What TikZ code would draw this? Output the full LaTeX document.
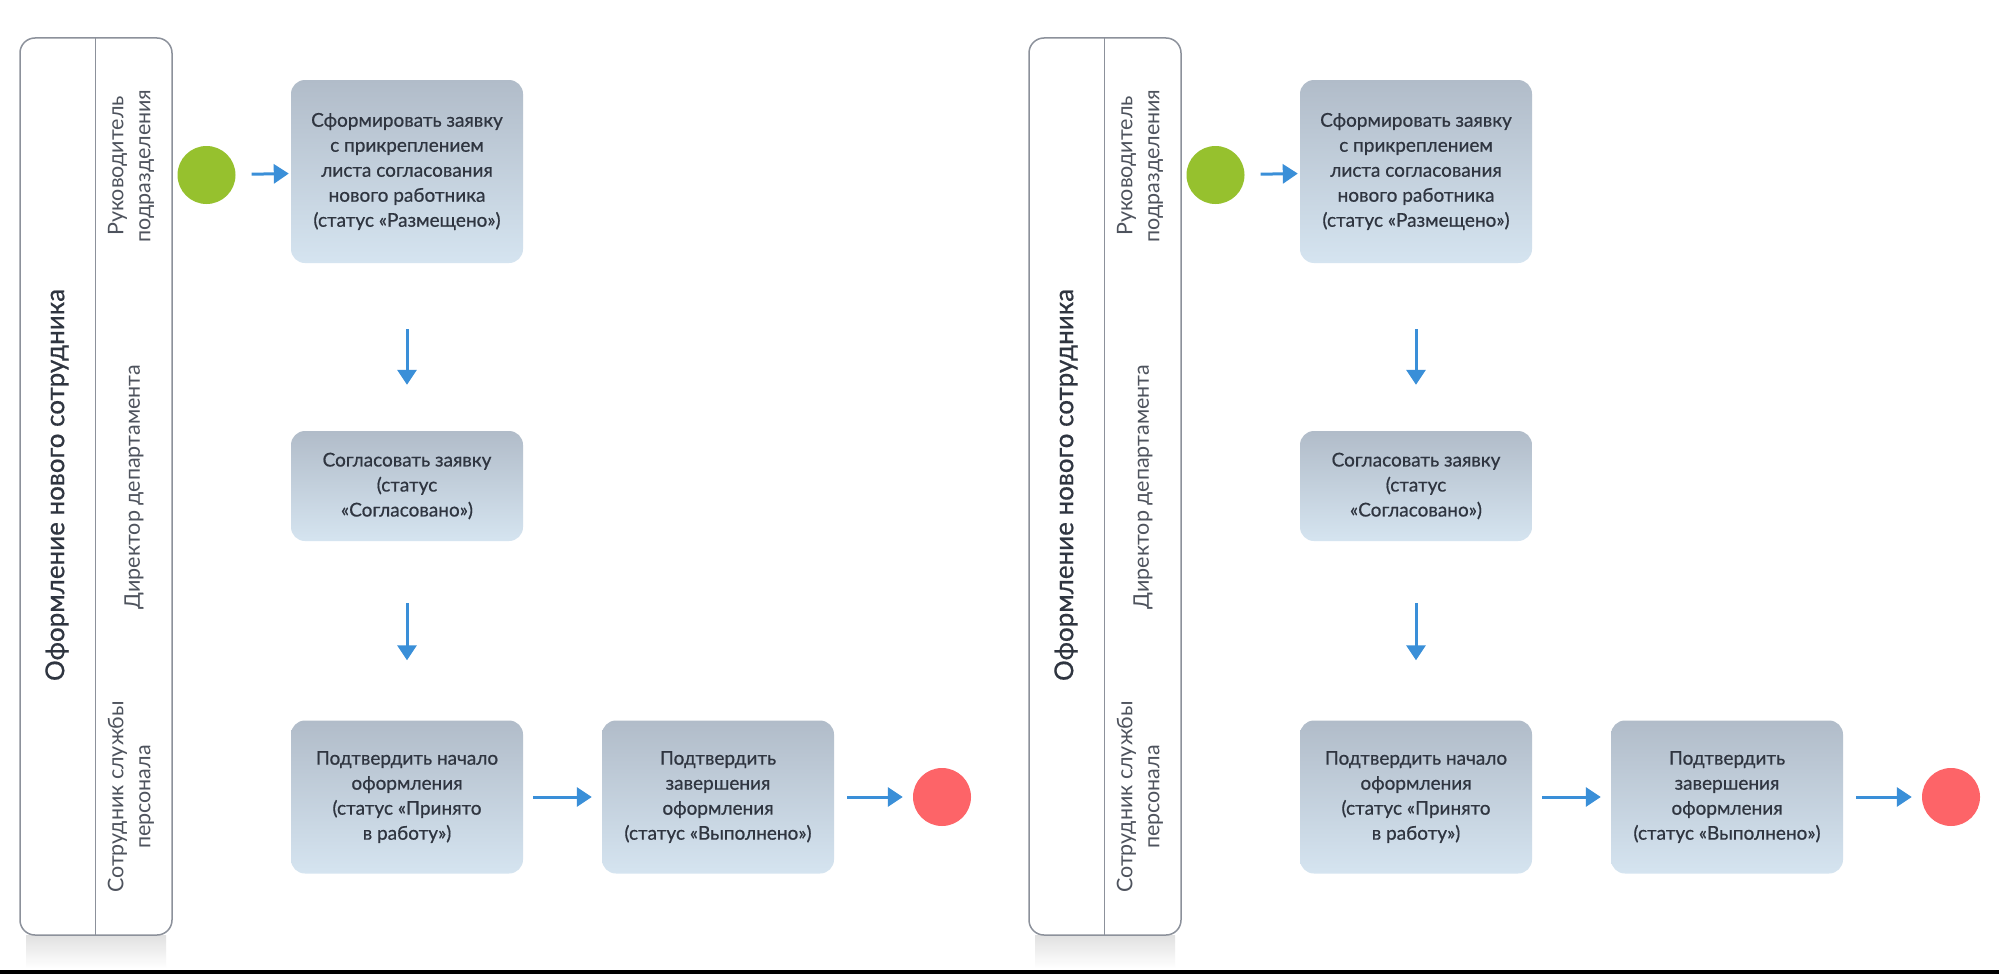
\documentclass[tikz,border=0pt]{standalone}
\usepackage{fontspec}
\setmainfont{Lato}
\newfontfamily\medfont{Lato}[FakeBold=0.6]
\usetikzlibrary{arrows.meta}
\definecolor{boxtop}{HTML}{B1BCC9}
\definecolor{boxbot}{HTML}{D5E4F0}
\definecolor{flowblue}{HTML}{3A8FD8}
\definecolor{startgreen}{HTML}{96C12E}
\definecolor{endred}{HTML}{FD6468}
\definecolor{poolgray}{HTML}{8C919B}
\definecolor{txt}{HTML}{2F3540}
\tikzset{
  taskbox/.style={rounded corners=14pt, top color=boxtop, bottom color=boxbot, draw=none,
    minimum width=232pt, align=center, font=\medfont\fontsize{19}{25}\selectfont, text=txt, inner sep=0pt},
  flow/.style={draw=flowblue, line width=3pt, -{Triangle[length=15pt,width=19pt]}},
  poolbox/.style={draw=poolgray, line width=1.5pt, rounded corners=15pt, fill=white,
    minimum width=152pt, minimum height=897pt, inner sep=0pt},
  lanelabel/.style={rotate=90, align=center, font=\fontsize{21.5}{27}\selectfont, text=txt!85},
  pooltitle/.style={rotate=90, font=\medfont\fontsize{26}{30}\selectfont, text=txt},
  startev/.style={circle, fill=startgreen, minimum size=58pt, inner sep=0pt},
  endev/.style={circle, fill=endred, minimum size=58pt, inner sep=0pt},
}
\newcommand\bpmndiagram[1]{%
  \fill[top color=black!12, bottom color=white] (26,935) rectangle (166,968);
  \node[poolbox] (#1pool) at (96,486.5) {};
  \coordinate (#1divtop) at (95.6,38);
  \coordinate (#1divbot) at (95.6,935);
  \draw[poolgray, line width=0.8pt] (#1divtop) -- (#1divbot);
  \node[pooltitle] (#1title) at (57,485) {Оформление нового сотрудника};
  \node[lanelabel] (#1lane1) at (131,166) {Руководитель\\подразделения};
  \node[lanelabel] (#1lane2) at (134,487) {Директор департамента};
  \node[lanelabel] (#1lane3) at (131,797) {Сотрудник службы\\персонала};
  \node[startev] (#1start) at (206.5,175) {};
  \node[taskbox, minimum height=183pt] (#1b1) at (407,171.5)
    {Сформировать заявку\\с прикреплением\\листа согласования\\нового работника\\(статус «Размещено»)};
  \node[taskbox, minimum height=110pt] (#1b2) at (407,486)
    {Согласовать заявку\\(статус\\«Согласовано»)};
  \node[taskbox, minimum height=153pt] (#1b3) at (407,797)
    {Подтвердить начало\\оформления\\(статус «Принято\\в работу»)};
  \node[taskbox, minimum height=153pt] (#1b4) at (718,797)
    {Подтвердить\\завершения\\оформления\\(статус «Выполнено»)};
  \node[endev] (#1end) at (942,797) {};
  \draw[flow, shorten <=16pt, shorten >=2pt] (#1start) -- (#1b1);
  \draw[flow, shorten <=66pt, shorten >=46pt] (#1b1) -- (#1b2);
  \draw[flow, shorten <=62pt, shorten >=60pt] (#1b2) -- (#1b3);
  \draw[flow, shorten <=10pt, shorten >=10pt] (#1b3) -- (#1b4);
  \draw[flow, shorten <=13pt, shorten >=10pt] (#1b4) -- (#1end);
}
\begin{document}
\begin{tikzpicture}[x=1pt,y=-1pt]
  \useasboundingbox (0,0) rectangle (1999,974);
  \fill[white] (0,0) rectangle (1999,974);
  \bpmndiagram{L}
  \begin{scope}[xshift=1009pt]
    \bpmndiagram{R}
  \end{scope}
  \fill[black] (0,969.5) rectangle (1999,974);
\end{tikzpicture}
\end{document}
